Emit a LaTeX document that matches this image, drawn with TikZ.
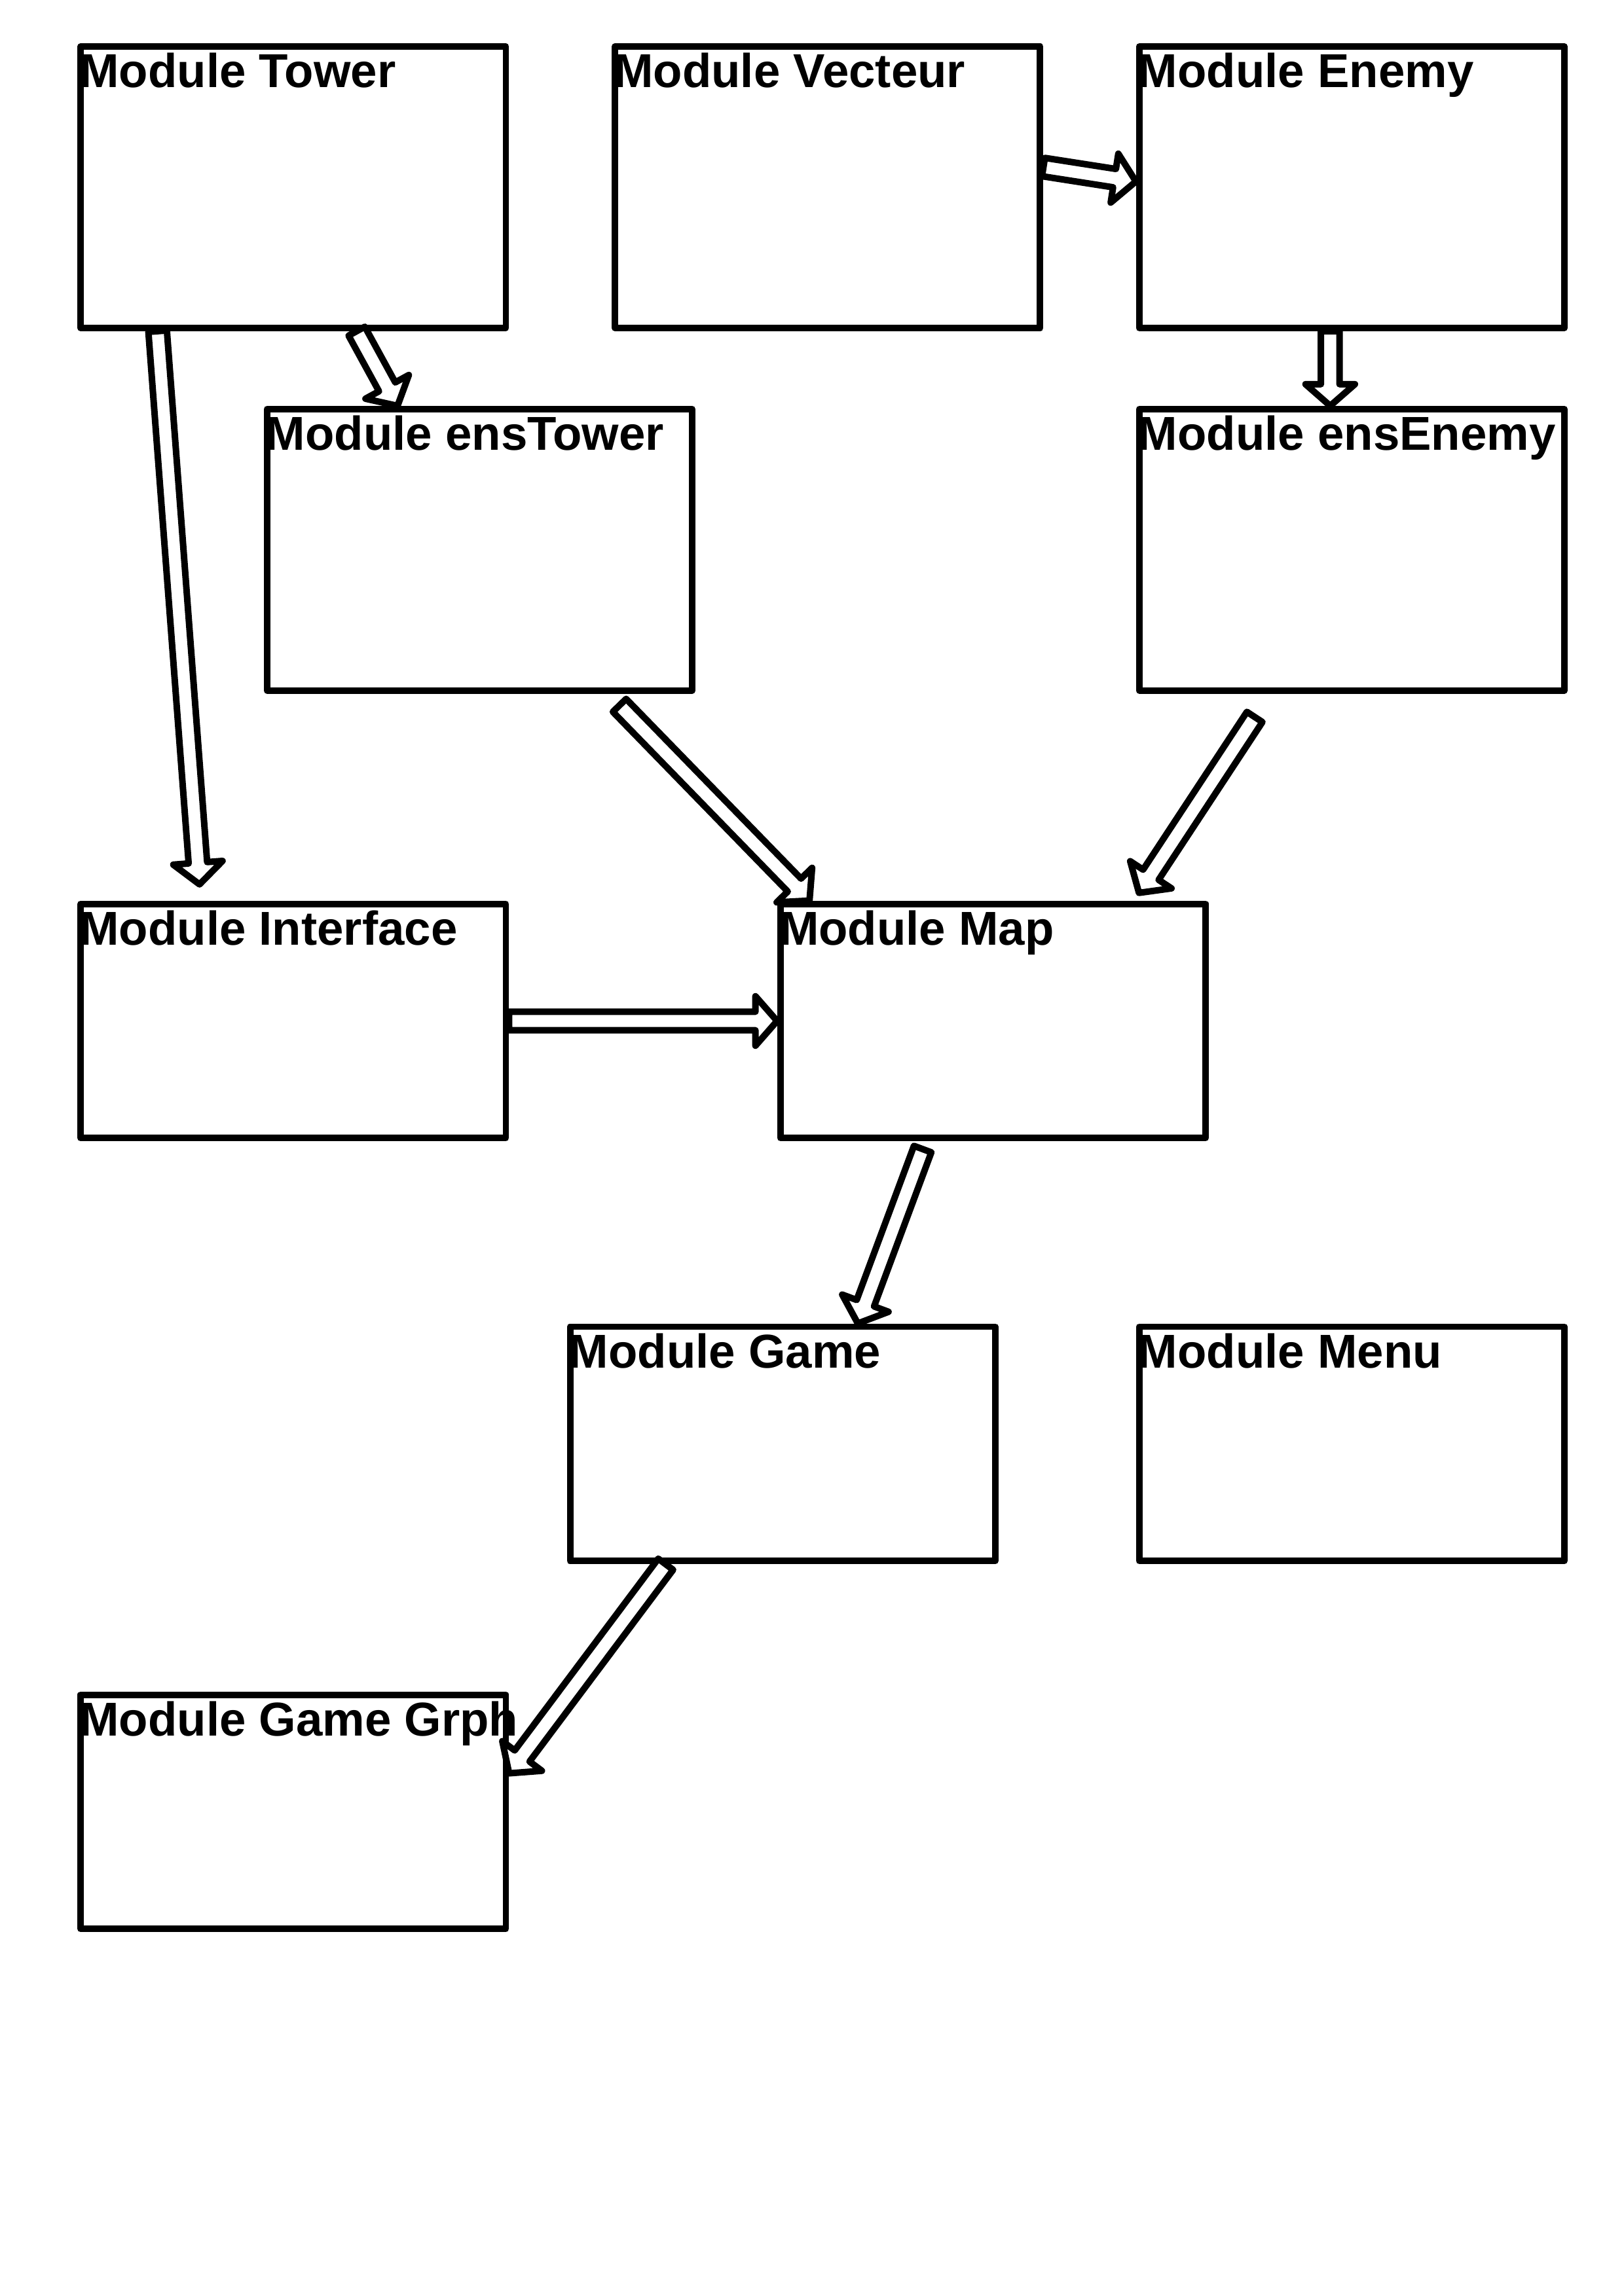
\documentclass[tikz,border=0pt]{standalone}
\usepackage{fontspec}
\newfontfamily\modfont{Liberation Sans Bold}
\usetikzlibrary{calc}

\tikzset{
  modulo/.style={draw, line width=2.4pt, line join=round, rectangle, anchor=north west, minimum width=5.5cm, inner sep=0pt},
  alto/.style={modulo, minimum height=3.64cm},
  bajo/.style={modulo, minimum height=3.03cm},
  titulo/.style={anchor=north west, inner xsep=0.6pt, inner ysep=3.4pt, font=\modfont\fontsize{17.5}{20}\selectfont},
  flecha/.style={draw, fill=white, line width=2.4pt, line join=round}
}

% flecha hueca de (#1) a (#2)
\newcommand{\flechabloque}[2]{%
  \coordinate (fa) at (#1);
  \coordinate (fb) at (#2);
  \coordinate (fh) at ($(fb)!0.28cm!(fa)$);
  \draw[flecha] ($(fa)!0.12cm!90:(fb)$) -- ($(fh)!0.12cm!90:(fb)$) -- ($(fh)!0.32cm!90:(fb)$) -- (fb)
    -- ($(fh)!0.32cm!-90:(fb)$) -- ($(fh)!0.12cm!-90:(fb)$) -- ($(fa)!0.12cm!-90:(fb)$) -- cycle;
}

\begin{document}
\begin{tikzpicture}
    \useasboundingbox (0,0) rectangle (21,29.7);

    % Modulos
    \node[alto] (tower) at (1.0,29.14) {};
    \node[alto] (vecteur) at (7.91,29.14) {};
    \node[alto] (enemy) at (14.69,29.14) {};
    \node[alto] (enstower) at (3.41,24.45) {};
    \node[alto] (ensenemy) at (14.69,24.45) {};
    \node[bajo] (interface) at (1.0,18.05) {};
    \node[bajo] (map) at (10.05,18.05) {};
    \node[bajo] (game) at (7.33,12.58) {};
    \node[bajo] (menu) at (14.69,12.58) {};
    \node[bajo] (gamegrph) at (1.0,7.82) {};

    % Titulos
    \node[titulo] (towert) at (tower.north west) {Module Tower};
    \node[titulo] (vecteurt) at (vecteur.north west) {Module Vecteur};
    \node[titulo] (enemyt) at (enemy.north west) {Module Enemy};
    \node[titulo] (enstowert) at (enstower.north west) {Module ensTower};
    \node[titulo] (ensenemyt) at (ensenemy.north west) {Module ensEnemy};
    \node[titulo] (interfacet) at (interface.north west) {Module Interface};
    \node[titulo] (mapt) at (map.north west) {Module Map};
    \node[titulo] (gamet) at (game.north west) {Module Game};
    \node[titulo] (menut) at (menu.north west) {Module Menu};
    \node[titulo] (gamegrpht) at (gamegrph.north west) {Module Game Grph};

    % Flechas
    \flechabloque{$(tower.south west)!.186!(tower.south east)$}{$(interface.north west)!.283!(interface.north east)+(0,0.21)$}
    \flechabloque{$(tower.south west)!.647!(tower.south east)$}{$(enstower.north west)!.31!(enstower.north east)$}
    \flechabloque{$(vecteur.north east)!.43!(vecteur.south east)$}{$(enemy.north west)!.48!(enemy.south west)$}
    \flechabloque{$(enemy.south west)!.45!(enemy.south east)$}{$(ensenemy.north west)!.45!(ensenemy.north east)$}
    \flechabloque{$(enstower.south west)!.824!(enstower.south east)+(0,-0.15)$}{$(map.north west)!.075!(map.north east)$}
    \flechabloque{$(ensenemy.south west)!.275!(ensenemy.south east)+(0,-0.3)$}{$(map.north west)!.838!(map.north east)+(0,0.1)$}
    \flechabloque{interface.east}{map.west}
    \flechabloque{$(map.south west)!.337!(map.south east)+(0,-0.1)$}{$(game.north west)!.674!(game.north east)$}
    \flechabloque{$(game.south west)!.229!(game.south east)$}{$(gamegrph.north east)!.34!(gamegrph.south east)$}
\end{tikzpicture}
\end{document}
